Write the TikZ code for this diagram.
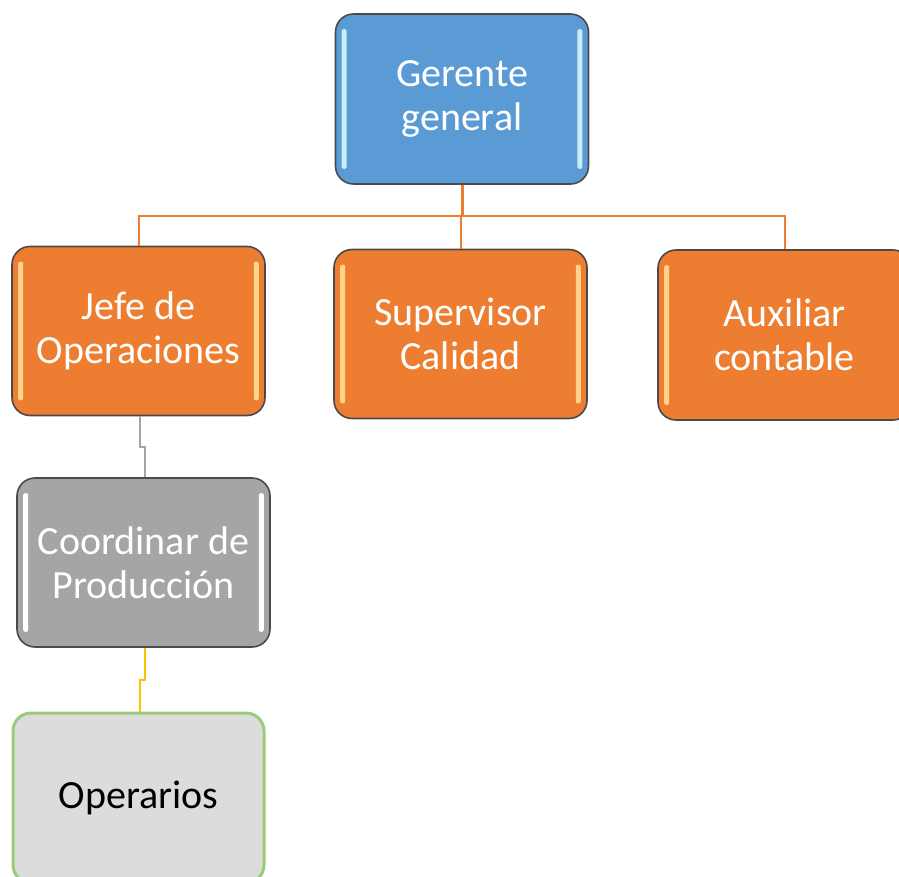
\documentclass[tikz,border=0pt]{standalone}
\usepackage{fontspec}
\setmainfont{Carlito}
\begin{document}
\begin{tikzpicture}[x=1pt,y=-1pt,
  box/.style={draw=boxborder,line width=1.6pt,rounded corners=18pt,minimum width=253pt,minimum height=169pt,
    inner sep=0pt,align=center,text=white,font=\fontsize{40}{44}\selectfont},
  bluebox/.style={box,fill=gblue},
  orangebox/.style={box,fill=gorange},
  graybox/.style={box,fill=ggray},
  greenbox/.style={box,draw=ggreen,line width=3pt,fill=glight,text=black},
  hlblue/.style={fill=hblue},
  hlorange/.style={fill=horange},
  hlgray/.style={fill=white},
  orangeline/.style={draw=gorange,line width=2pt},
  grayline/.style={draw=ggray,line width=2pt},
  yellowline/.style={draw=gyellow,line width=2pt}]
\definecolor{gblue}{HTML}{5B9BD5}
\definecolor{gorange}{HTML}{ED7D31}
\definecolor{ggray}{HTML}{A5A5A5}
\definecolor{glight}{HTML}{DCDCDC}
\definecolor{ggreen}{HTML}{9BCB7A}
\definecolor{gyellow}{HTML}{FFC000}
\definecolor{boxborder}{HTML}{4A4A4A}
\definecolor{hblue}{HTML}{C9ECF8}
\definecolor{horange}{HTML}{FFD48A}
\useasboundingbox (0,0) rectangle (899,877);
\clip (0,0) rectangle (899,877);
% nodes
\node[bluebox,minimum height=170pt] (g) at (462,99) {Gerente\\general};
\node[orangebox] (j) at (138.5,331) {Jefe de\\Operaciones};
\node[orangebox] (s) at (460.5,334) {Supervisor\\Calidad};
\node[orangebox,minimum height=170pt] (a) at (784.5,335) {Auxiliar\\contable};
\node[graybox] (c) at (143.5,562.5) {Coordinar de\\Producción};
\node[greenbox,minimum width=251pt,minimum height=170pt] (o) at (138.5,798) {Operarios};
% highlights
\foreach \n/\h in {g/hlblue,j/hlorange,s/hlorange,a/hlorange,c/hlgray}{
  \fill[\h,rounded corners=2pt] ([xshift=7pt,yshift=-16pt]\n.north west) rectangle ([xshift=12pt,yshift=16pt]\n.south west);
  \fill[\h,rounded corners=2pt] ([xshift=-12pt,yshift=-16pt]\n.north east) rectangle ([xshift=-7pt,yshift=16pt]\n.south east);
}
% connectors
\coordinate (bus) at (462,216);
\draw[orangeline,line width=3pt] (g.south) -- (bus);
\draw[orangeline] (j.north) |- (bus) -| (a.north);
\draw[orangeline] (s.north) -- (s.north |- bus);
\coordinate (k1) at (140,447);
\coordinate (k2) at (145,450);
\draw[grayline] (j.south -| k1) -- (k1) -- (k1 -| k2) -- (k2) -- (c.north -| k2);
\coordinate (k3) at (145,680);
\coordinate (k4) at (140,683);
\draw[yellowline] (c.south -| k3) -- (k3) -- (k3 -| k4) -- (k4) -- (o.north -| k4);
\end{tikzpicture}
\end{document}
